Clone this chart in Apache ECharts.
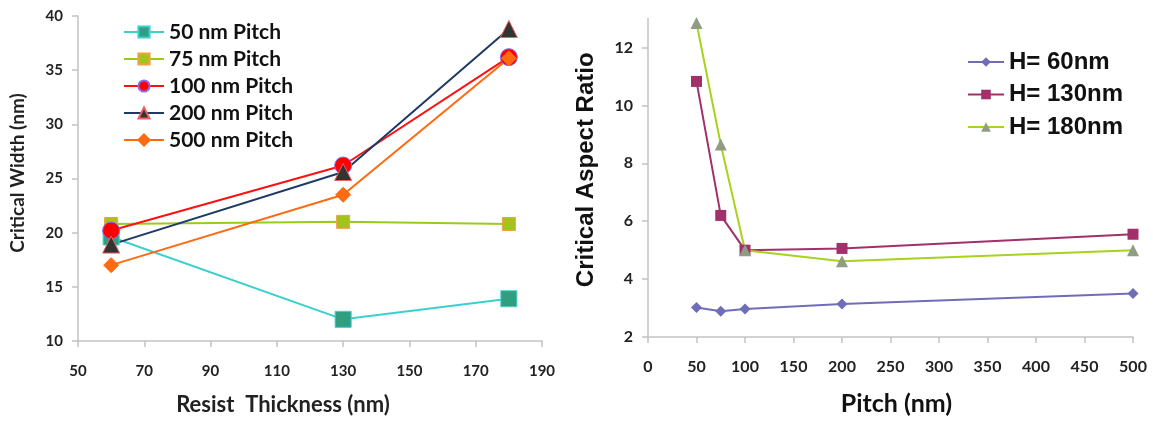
<!DOCTYPE html>
<html>
<head>
<meta charset="utf-8">
<script src="https://cdn.jsdelivr.net/npm/echarts@6/dist/echarts.min.js"></script>
<style>
  html, body { margin: 0; padding: 0; background: #fff; }
  #chart { width: 1153px; height: 421px; }
</style>
</head>
<body>
<div id="chart"></div>
<script>
// left panel: critical width vs resist thickness
let thickness = [60, 130, 180]
let pitch50 = [19.6, 12.0, 13.9]
let pitch75 = [20.8, 21.0, 20.8]
let pitch100 = [20.2, 26.2, 36.2]
let pitch200 = [18.9, 25.6, 38.8]
let pitch500 = [17.0, 23.5, 36.1]

// right panel: critical aspect ratio vs pitch
let pitches = [50, 75, 100, 200, 500]
let h60 = [3.02, 2.89, 2.97, 3.14, 3.5]
let h130 = [10.83, 6.2, 5.0, 5.06, 5.55]
let h180 = [12.85, 8.65, 5.0, 4.62, 5.0]

const leftFont = 'Lato, "DejaVu Sans", sans-serif'
const rightFont = '"Liberation Sans", Arial, sans-serif'

function pairs(xs, ys) {
  return xs.map((x, i) => [x, ys[i]])
}

function leftSeries(name, data, color, symbol, fill, border, size) {
  return {
    name: name,
    type: 'line',
    xAxisIndex: 0,
    yAxisIndex: 0,
    data: pairs(thickness, data),
    symbol: symbol,
    symbolSize: size,
    lineStyle: { color: color, width: 2 },
    itemStyle: { color: fill, borderColor: border, borderWidth: 1 },
    emphasis: { disabled: true }
  }
}

function rightSeries(name, data, color, symbol, fill, size) {
  return {
    name: name,
    type: 'line',
    xAxisIndex: 1,
    yAxisIndex: 1,
    data: pairs(pitches, data),
    symbol: symbol,
    symbolSize: size,
    lineStyle: { color: color, width: 2 },
    itemStyle: { color: fill, borderColor: fill, borderWidth: 0 },
    emphasis: { disabled: true }
  }
}

const axisLine = { show: true, lineStyle: { color: '#c2c2c2', width: 1.5 } }
const axisTick = { show: true, inside: false, length: 6, lineStyle: { color: '#c2c2c2', width: 1.5 } }
const tickText = { fontFamily: leftFont, fontWeight: 'bold', color: '#222' }

let chart = echarts.init(document.getElementById('chart'))
chart.setOption({
  animation: false,
  backgroundColor: '#fff',
  grid: [
    { left: 78, right: 611, top: 16, bottom: 78 },
    { left: 648, right: 20, top: 18.6, bottom: 82.7 }
  ],
  legend: [
    {
      orient: 'vertical',
      left: 118,
      top: 16.5,
      itemWidth: 40,
      itemHeight: 14,
      itemGap: 6,
      textStyle: { fontFamily: leftFont, fontWeight: 'bold', fontSize: 21, color: '#111' },
      data: ['50 nm Pitch', '75 nm Pitch', '100 nm Pitch', '200 nm Pitch', '500 nm Pitch']
    },
    {
      orient: 'vertical',
      left: 962,
      top: 45,
      itemWidth: 36,
      itemHeight: 12,
      itemGap: 8.5,
      textStyle: { fontFamily: rightFont, fontWeight: 'bold', fontSize: 24, color: '#111' },
      data: ['H= 60nm', 'H= 130nm', 'H= 180nm']
    }
  ],
  xAxis: [
    {
      gridIndex: 0,
      type: 'value',
      min: 50,
      max: 190,
      interval: 20,
      name: 'Resist  Thickness (nm)',
      nameLocation: 'middle',
      nameGap: 53,
      nameTextStyle: { fontFamily: leftFont, fontWeight: 'bold', fontSize: 22, color: '#222', padding: [0, 54, 0, 0] },
      axisLine: axisLine,
      axisTick: axisTick,
      splitLine: { show: false },
      axisLabel: Object.assign({ fontSize: 15, margin: 23 }, tickText)
    },
    {
      gridIndex: 1,
      type: 'value',
      min: 0,
      max: 500,
      interval: 50,
      name: 'Pitch (nm)',
      nameLocation: 'middle',
      nameGap: 54,
      nameTextStyle: { fontFamily: leftFont, fontWeight: 'bold', fontSize: 25, color: '#111', padding: [0, 0, 0, 12] },
      axisLine: axisLine,
      axisTick: axisTick,
      splitLine: { show: false },
      axisLabel: Object.assign({ fontSize: 16, margin: 22 }, tickText)
    }
  ],
  yAxis: [
    {
      gridIndex: 0,
      type: 'value',
      min: 10,
      max: 40,
      interval: 5,
      name: 'Critical Width (nm)',
      nameLocation: 'middle',
      nameGap: 51,
      nameTextStyle: { fontFamily: leftFont, fontWeight: 'bold', fontSize: 19, color: '#222', padding: [0, 0, 0, 11] },
      axisLine: axisLine,
      axisTick: axisTick,
      splitLine: { show: false },
      axisLabel: Object.assign({ fontSize: 15, margin: 15 }, tickText)
    },
    {
      gridIndex: 1,
      type: 'value',
      min: 2,
      max: 13,
      interval: 2,
      name: 'Critical Aspect Ratio',
      nameLocation: 'middle',
      nameGap: 50,
      nameTextStyle: { fontFamily: rightFont, fontWeight: 'bold', fontSize: 24, color: '#111', padding: [0, 0, 0, 16] },
      axisLine: axisLine,
      axisTick: axisTick,
      splitLine: { show: false },
      axisLabel: Object.assign({ fontSize: 16, margin: 15, showMaxLabel: false }, tickText)
    }
  ],
  series: [
    leftSeries('50 nm Pitch', pitch50, '#3ccfcf', 'rect', '#2f9f80', '#3ccfcf', 16),
    leftSeries('75 nm Pitch', pitch75, '#99cc1a', 'rect', '#a3c41c', '#f0a040', 13),
    leftSeries('100 nm Pitch', pitch100, '#ff1010', 'circle', '#ff0000', '#8a6cf0', 17),
    leftSeries('200 nm Pitch', pitch200, '#1c3a66', 'triangle', '#333333', '#f06060', 17),
    leftSeries('500 nm Pitch', pitch500, '#ff6a10', 'diamond', '#ff6a10', '#ff6a10', 15),
    rightSeries('H= 60nm', h60, '#6f6db8', 'diamond', '#6f6db8', 11),
    rightSeries('H= 130nm', h130, '#a2306a', 'rect', '#a2306a', 11),
    rightSeries('H= 180nm', h180, '#a8d21c', 'triangle', '#909c84', 12)
  ]
})
</script>
</body>
</html>
